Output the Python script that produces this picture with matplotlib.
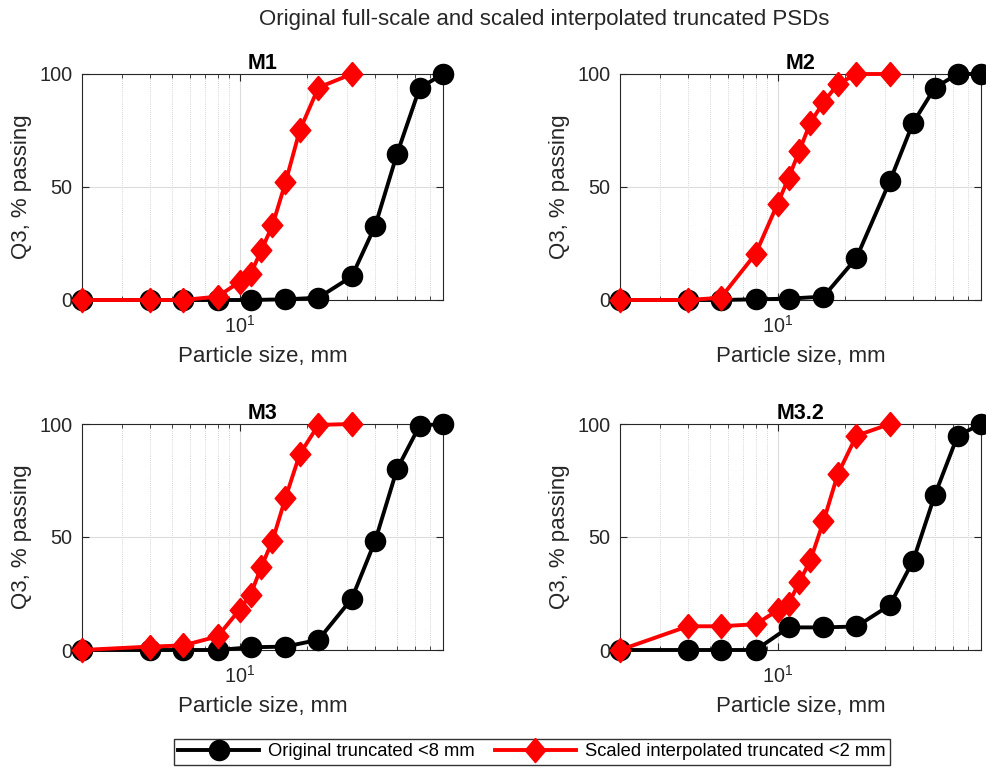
import matplotlib
matplotlib.use("Agg")
import matplotlib.pyplot as plt
from matplotlib.ticker import FixedLocator, NullFormatter, LogFormatterSciNotation
from matplotlib.lines import Line2D

plt.rcParams['font.family'] = ['Liberation Sans', 'DejaVu Sans']
plt.rcParams['mathtext.fontset'] = 'custom'
plt.rcParams['mathtext.rm'] = 'Liberation Sans'
plt.rcParams['mathtext.it'] = 'Liberation Sans'
plt.rcParams['mathtext.bf'] = 'Liberation Sans:bold'

titles = ["M1", "M2", "M3", "M3.2"]
x_orig = [2, 4, 5.6, 8, 11.2, 16, 22.4, 31.5, 40, 50, 63, 80]
x_scaled = [2, 4, 5.6, 8, 10, 11.2, 12.5, 14, 16, 18.5, 22.4, 31.5]

m1_orig = [0, 0, 0, 0, 0, 0.3, 1, 10.4, 32.8, 64.6, 93.8, 100]
m1_scaled = [0, 0, 0, 1.5, 8, 11.5, 22, 33, 52, 75, 94, 100]
m2_orig = [0, 0, 0, 0.3, 0.6, 1.5, 18.6, 52.5, 78.5, 94, 100, 100]
m2_scaled = [0, 0, 1, 20.5, 42.5, 54, 66, 78.5, 87.5, 95.5, 100, 100]
m3_orig = [0, 0, 0, 0, 1.2, 1.5, 4.5, 22.7, 48.3, 80, 99.3, 100]
m3_scaled = [0, 1.5, 2, 6, 17.8, 24.5, 36.8, 48.3, 67.3, 86.6, 99.6, 100]
m32_orig = [0, 0, 0, 0, 10, 10, 10.4, 19.8, 39.5, 68.8, 94.8, 100]
m32_scaled = [0, 10.5, 10.5, 11.4, 17.5, 20.5, 30, 39.8, 56.9, 77.7, 94.8, 100]

orig_series = [m1_orig, m2_orig, m3_orig, m32_orig]
scaled_series = [m1_scaled, m2_scaled, m3_scaled, m32_scaled]

suptitle = "Original full-scale and scaled interpolated truncated PSDs"
xlabel = "Particle size, mm"
ylabel = "Q3, % passing"
legend_labels = ["Original truncated <8 mm", "Scaled interpolated truncated <2 mm"]
yticks = [0, 50, 100]

W, H = 987, 771
fig = plt.figure(figsize=(W / 100, H / 100), dpi=100)
txt = '#262626'
diamond = [(0, 1), (0.85, 0), (0, -1), (-0.85, 0), (0, 1)]

boxes = [(82, 74), (620, 74), (82, 424), (620, 424)]
aw, ah = 361, 226
for i, (lx, ty) in enumerate(boxes):
    ax = fig.add_axes([lx / W, (H - ty - ah) / H, aw / W, ah / H])
    ax.set_xscale('log')
    ax.plot(x_orig, orig_series[i], color='black', lw=2.8, marker='o', ms=14.5,
            clip_on=False, zorder=3)
    ax.plot(x_scaled, scaled_series[i], color='red', lw=2.8, marker=diamond, ms=17.5,
            clip_on=False, zorder=4)
    ax.set_xlim(2, 80)
    ax.set_ylim(0, 100)
    ax.set_yticks(yticks)
    ax.xaxis.set_major_locator(FixedLocator([10]))
    ax.xaxis.set_major_formatter(LogFormatterSciNotation())
    ax.xaxis.set_minor_locator(FixedLocator([2, 3, 4, 5, 6, 7, 8, 9, 20, 30, 40, 50, 60, 70, 80]))
    ax.xaxis.set_minor_formatter(NullFormatter())
    ax.grid(True, which='major', color='#dcdcdc', lw=0.8, ls='-', zorder=0)
    ax.grid(True, which='minor', axis='x', color='#c8c8c8', lw=0.6, ls=(0, (1, 1.5)), zorder=0)
    ax.set_axisbelow(True)
    ax.tick_params(which='both', direction='in', top=True, right=True, colors=txt,
                   labelsize=14.3)
    ax.tick_params(axis='y', pad=7)
    ax.tick_params(axis='x', pad=11)
    ax.tick_params(which='major', length=5, width=0.8)
    ax.tick_params(which='minor', length=3, width=0.6)
    for s in ax.spines.values():
        s.set_color(txt)
        s.set_linewidth(0.8)
    ax.set_title(titles[i], fontsize=15.5, fontweight='bold', color='black', pad=3)
    ax.set_xlabel(xlabel, fontsize=16, color=txt, labelpad=6)
    ax.set_ylabel(ylabel, fontsize=16, color=txt, labelpad=5)

fig.text(544 / W, 1 - 20 / H, suptitle, ha='center', va='center', fontsize=16, color=txt)

handles = [Line2D([], [], color='black', lw=2.8, marker='o', ms=14.5),
           Line2D([], [], color='red', lw=2.8, marker=diamond, ms=17.5)]
leg = fig.legend(handles, legend_labels, loc='center', bbox_to_anchor=(532 / W, 1 - 752 / H),
                 ncol=2, fontsize=13.2, frameon=True, fancybox=False, edgecolor='black',
                 handlelength=4.4, columnspacing=1.1, borderpad=0.25, handletextpad=0.5,
                 borderaxespad=0)
leg.get_frame().set_linewidth(1.0)

fig.savefig('out.png', dpi=100)
